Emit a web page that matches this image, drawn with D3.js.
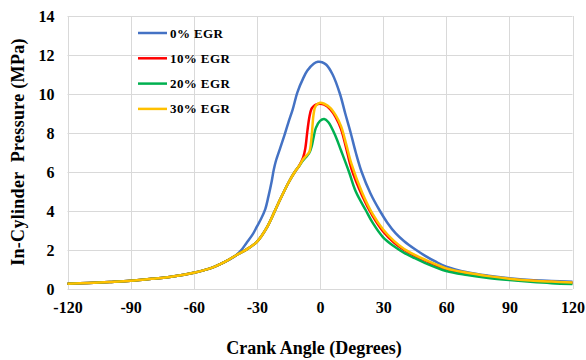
<!DOCTYPE html>
<html>
<head>
<meta charset="utf-8">
<script src="https://cdnjs.cloudflare.com/ajax/libs/d3/7.8.5/d3.min.js"></script>
<style>
  body { margin: 0; background: #fff; }
  svg text { font-family: "Liberation Serif", "Times New Roman", serif; font-weight: bold; fill: #000; }
</style>
</head>
<body>
<div class="chart"></div>
<script>
var width = 586;
var height = 360;

// shared compression stroke (all four runs overlap here)
var compressionAngle = [-120, -110, -100, -90, -80, -70, -60, -55, -50, -45, -40, -35, -30, -25, -20, -15, -12, -10];
var compressionP = [0.27, 0.31, 0.36, 0.42, 0.52, 0.64, 0.83, 0.97, 1.15, 1.4, 1.72, 2.02, 2.42, 3.2, 4.35, 5.45, 6.0, 6.3];

// 0% EGR leaves the common curve at about -40 deg
var angle0 = [-37.5, -35, -32, -30, -28, -26, -24.5, -23, -22, -21, -19, -17, -15, -13, -10.7, -8, -6, -3, -1, 1, 3, 6, 9.5, 12, 14.6, 17, 19.8, 24, 28.5, 32, 36, 40, 45, 50, 55, 60, 70, 80, 90, 100, 110, 120];
var egr0 = [1.98, 2.35, 2.8, 3.2, 3.6, 4.1, 4.75, 5.5, 6.1, 6.55, 7.2, 7.85, 8.55, 9.2, 10.1, 10.8, 11.2, 11.55, 11.65, 11.63, 11.5, 11.0, 10.0, 9.0, 8.0, 7.0, 6.0, 4.9, 4.0, 3.4, 2.85, 2.45, 2.05, 1.7, 1.4, 1.15, 0.86, 0.68, 0.55, 0.46, 0.41, 0.37];

// the others leave it after -10 deg
var angleTail = [-8, -7, -6, -5, -4, -3, -2, 0, 2, 5, 7.5, 10, 12.5, 15, 20, 25, 30, 35, 40, 45, 50, 60, 70, 80, 90, 100, 110, 120];
var egr10 = [6.75, 7.2, 8.1, 8.85, 9.25, 9.38, 9.45, 9.5, 9.45, 9.2, 8.8, 8.2, 7.2, 6.15, 4.8, 3.75, 2.95, 2.4, 2.0, 1.7, 1.45, 1.02, 0.8, 0.63, 0.5, 0.42, 0.36, 0.31];
var egr30 = [6.65, 6.78, 6.9, 7.05, 7.8, 9.0, 9.4, 9.55, 9.5, 9.28, 8.9, 8.35, 7.4, 6.4, 4.95, 3.85, 3.05, 2.48, 2.05, 1.75, 1.5, 1.06, 0.83, 0.66, 0.53, 0.44, 0.38, 0.33];

var angle20 = [-8, -6, -5, -4, -3, -2, 0, 2, 4, 7.5, 10, 13.8, 17, 21.7, 25, 30, 35, 40, 45, 50, 60, 70, 80, 90, 100, 110, 120];
var egr20 = [6.6, 6.85, 7.0, 7.3, 7.8, 8.25, 8.62, 8.72, 8.55, 7.81, 7.1, 6.0, 5.0, 4.05, 3.4, 2.65, 2.2, 1.85, 1.58, 1.33, 0.92, 0.72, 0.57, 0.46, 0.37, 0.3, 0.26];

var seriesNames = ["0% EGR", "10% EGR", "20% EGR", "30% EGR"];
var seriesColors = ["#4472C4", "#FF0000", "#00B050", "#FFC000"];
var xTicks = [-120, -90, -60, -30, 0, 30, 60, 90, 120];
var yTicks = [0, 2, 4, 6, 8, 10, 12, 14];

function pairs(xs, ys) {
  return xs.map(function (x, i) { return { a: x, p: ys[i] }; });
}
var common = pairs(compressionAngle, compressionP);
var series = [
  common.filter(function (d) { return d.a <= -40; }).concat(pairs(angle0, egr0)),
  common.concat(pairs(angleTail, egr10)),
  common.concat(pairs(angle20, egr20)),
  common.concat(pairs(angleTail, egr30))
];

var plotLeft = 67.5, plotRight = 572.5, plotTop = 16, plotBottom = 289;
var serif = "'Liberation Serif', 'Times New Roman', serif";

var svg = d3.select(".chart").append("svg")
  .attr("width", width)
  .attr("height", height);

var xScale = d3.scaleLinear().domain([-120, 120]).range([plotLeft, plotRight]);
var yScale = d3.scaleLinear().domain([0, 14]).range([plotBottom, plotTop]);

// grid
svg.append("g")
  .selectAll("line")
  .data(yTicks)
  .enter()
  .append("line")
  .attr("x1", plotLeft)
  .attr("x2", plotRight)
  .attr("y1", (d) => Math.round(yScale(d)) + 0.5)
  .attr("y2", (d) => Math.round(yScale(d)) + 0.5)
  .style("stroke", "#d9d9d9")
  .style("stroke-width", 1);

svg.append("g")
  .selectAll("line")
  .data(xTicks)
  .enter()
  .append("line")
  .attr("x1", (d) => Math.round(xScale(d)) + 0.5)
  .attr("x2", (d) => Math.round(xScale(d)) + 0.5)
  .attr("y1", plotTop)
  .attr("y2", plotBottom)
  .style("stroke", "#d9d9d9")
  .style("stroke-width", 1);

// axes (labels only)
var xAxis = d3.axisBottom(xScale).tickValues(xTicks).tickSize(0).tickPadding(13).tickFormat((d) => String(d));
var xAxisGroup = svg.append("g")
  .attr("transform", "translate(0," + plotBottom + ")")
  .call(xAxis)
  .attr("font-family", serif)
  .attr("font-size", 16);
xAxisGroup.select(".domain").remove();

var yAxis = d3.axisLeft(yScale).tickValues(yTicks).tickSize(0).tickPadding(13).tickFormat((d) => String(d));
var yAxisGroup = svg.append("g")
  .attr("transform", "translate(" + plotLeft + ",0)")
  .call(yAxis)
  .attr("font-family", serif)
  .attr("font-size", 16);
yAxisGroup.select(".domain").remove();

// lines
var line = d3.line()
  .x((d) => xScale(d.a))
  .y((d) => yScale(d.p))
  .curve(d3.curveCatmullRom.alpha(0.5));

svg.append("g")
  .selectAll("path")
  .data(series)
  .enter()
  .append("path")
  .attr("d", line)
  .style("fill", "none")
  .style("stroke", (d, i) => seriesColors[i])
  .style("stroke-width", 2.5);

// legend
var legend = svg.append("g").attr("id", "legend");
seriesNames.forEach(function (name, i) {
  var y = 33 + i * 25.3;
  legend.append("line")
    .attr("x1", 138)
    .attr("x2", 167)
    .attr("y1", y)
    .attr("y2", y)
    .style("stroke", seriesColors[i])
    .style("stroke-width", 2.5);
  legend.append("text")
    .attr("x", 170)
    .attr("y", y + 4.5)
    .text(name)
    .style("font-size", "13px")
    .style("letter-spacing", "0.4px");
});

// titles
svg.append("text")
  .attr("x", 314)
  .attr("y", 354)
  .attr("text-anchor", "middle")
  .text("Crank Angle (Degrees)")
  .style("font-size", "18px");

svg.append("text")
  .attr("transform", "translate(24,152) rotate(-90)")
  .attr("text-anchor", "middle")
  .text("In-Cylinder  Pressure (MPa)")
  .style("font-size", "18px")
  .style("white-space", "pre")
  .style("letter-spacing", "0.3px");
</script>
</body>
</html>
